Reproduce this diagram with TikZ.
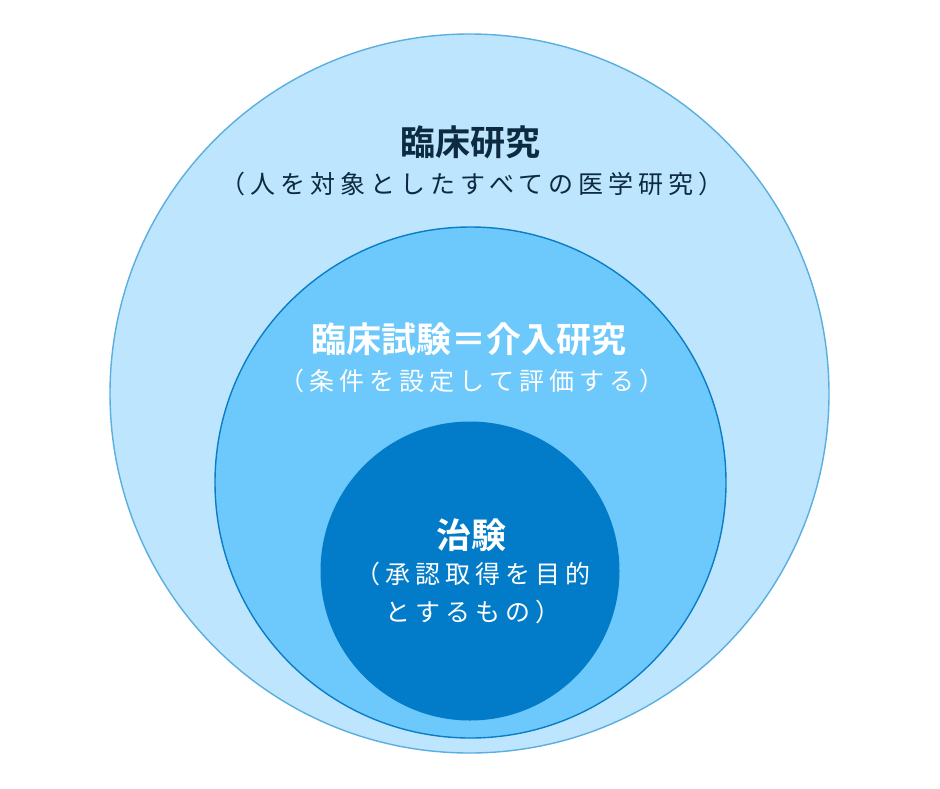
\documentclass[tikz,border=0pt]{standalone}
\usepackage{fontspec}
\setmainfont{Noto Sans CJK JP}[BoldFont={Noto Sans CJK JP Bold}]
\newfontfamily\jpsp{Noto Sans CJK JP}[LetterSpace=20]
\definecolor{outerfill}{HTML}{BDE5FD}
\definecolor{outerline}{HTML}{5AAEE0}
\definecolor{midfill}{HTML}{6DC9FB}
\definecolor{midline}{HTML}{0A7DC6}
\definecolor{innerfill}{HTML}{027BC8}
\definecolor{darktext}{HTML}{0C2A40}
\tikzset{
  ring/.style={circle, inner sep=0pt, line width=1.4pt},
  titletext/.style={font=\fontsize{35}{40}\selectfont\bfseries, inner sep=0pt, anchor=center},
  subtext/.style={font=\fontsize{25}{38}\selectfont\jpsp, inner sep=0pt, anchor=center, align=center},
}
\begin{document}
\begin{tikzpicture}[x=1pt,y=-1pt]
\useasboundingbox (0,0) rectangle (940,788);
\node[ring, draw=outerline, fill=outerfill, minimum size=719pt] (outer) at (469.5,393.5) {};
\node[ring, draw=midline, fill=midfill, minimum size=511pt] (middle) at (470.5,482.5) {};
\node[ring, fill=innerfill, minimum size=299pt] (inner) at (470,571) {};
\node[titletext, text=darktext] (t1) at (470,142) {臨床研究};
\node[subtext, text=darktext] (s1) at (472,184) {（人を対象としたすべての医学研究）};
\node[titletext, text=white] (t2) at (469,339) {臨床試験＝介入研究};
\node[subtext, text=white] (s2) at (472,381) {（条件を設定して評価する）};
\node[titletext, text=white] (t3) at (471,535) {治験};
\node[subtext, text=white, anchor=north] (s3) at (473,562) {（承認取得を目的\\とするもの）};
\end{tikzpicture}
\end{document}
